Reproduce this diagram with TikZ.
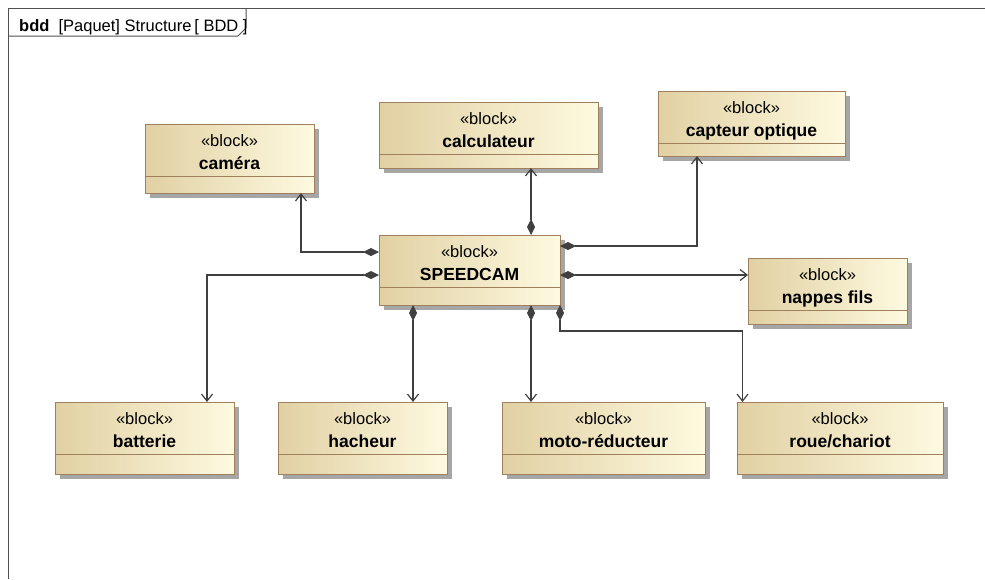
\documentclass[tikz,border=0pt]{standalone}
\usepackage{fontspec}
\setmainfont{Liberation Sans}
\usetikzlibrary{arrows.meta,calc}
\definecolor{bleft}{RGB}{225,208,163}
\definecolor{bright}{RGB}{254,250,224}
\definecolor{bord}{RGB}{160,128,92}
\definecolor{shad}{RGB}{166,166,166}
\definecolor{linec}{RGB}{64,64,64}
\definecolor{framec}{RGB}{80,80,80}
\tikzset{
  blockbox/.style={draw=bord, line width=1pt, left color=bleft, right color=bright, inner sep=0pt, outer sep=0pt, shape=rectangle},
  stereo/.style={font=\fontsize{16.5}{19}\selectfont, inner sep=0pt, anchor=base},
  bname/.style={font=\fontsize{17.5}{20}\selectfont\bfseries, inner sep=0pt, anchor=base},
  conn/.style={draw=linec, line width=1.2pt, {Diamond[length=16pt,width=8pt,fill=linec]}-{Straight Barb[length=7pt,width=11pt]}},
  frameline/.style={draw=framec, line width=1pt},
}
\newcommand\blk[6]{%
  \fill[shad] (#2+5,#3+5) rectangle (#4+5,#5+5);
  \node[blockbox, minimum width={(#4-#2)*1pt}, minimum height={(#5-#3)*1pt}] (#1) at ({(#2+#4)/2},{(#3+#5)/2}) {};
  \draw[bord, line width=1pt] (#2,#3+52) -- (#4,#3+52);
  \node[stereo] (#1-st) at ({(#2+#4)/2},#3+22) {«block»};
  \node[bname] (#1-nm) at ({(#2+#4)/2},#3+45) {#6};
}
\begin{document}
\begin{tikzpicture}[x=1pt, y=-1pt]
\useasboundingbox (0,0) rectangle (985,579);
\fill[white] (0,0) rectangle (985,579);
% frame
\draw[frameline] (8,579) -- (8,8) -- (986,8);
\draw[frameline] (8,36) -- (238,36) -- (246,28) -- (246,8);
\node[anchor=base west, inner sep=0pt, font=\fontsize{16.5}{19}\selectfont] (hdr) at (19,31) {\textbf{bdd}\ \ [Paquet]\ Structure\,[\ BDD\ ]};
% blocks
\blk{cam}{145}{124}{314}{193}{caméra}
\blk{calc}{379}{102}{598}{168}{calculateur}
\blk{cap}{658}{91}{845}{156}{capteur optique}
\blk{sc}{379}{235}{560}{305}{SPEEDCAM}
\blk{nap}{748}{258}{907}{324}{nappes fils}
\blk{bat}{55}{402}{234}{474}{batterie}
\blk{hach}{278}{402}{447}{474}{hacheur}
\blk{moto}{502}{402}{705}{474}{moto-réducteur}
\blk{roue}{737}{402}{943}{474}{roue/chariot}
% connectors
\draw[conn] ([yshift=18pt]sc.west) -| ([xshift=71.5pt]cam.south);
\draw[conn] ([yshift=-5pt]sc.west) -| ([xshift=62.5pt]bat.north);
\draw[conn] ([xshift=61.5pt]sc.north) -- ([xshift=61.5pt]sc.north |- calc.south);
\draw[conn] ([yshift=24pt]sc.east) -| ([xshift=-54.5pt]cap.south);
\draw[conn] ([yshift=-5pt]sc.east) -- ([yshift=-5pt]sc.east -| nap.west);
\draw[conn] ([xshift=-56.5pt]sc.south) -- ([xshift=-56.5pt]sc.south |- hach.north);
\draw[conn] ([xshift=61.5pt]sc.south) -- ([xshift=61.5pt]sc.south |- moto.north);
\draw[conn] (sc.south east) -- ++(0,26) -| ([xshift=-97.5pt]roue.north);
\end{tikzpicture}
\end{document}
